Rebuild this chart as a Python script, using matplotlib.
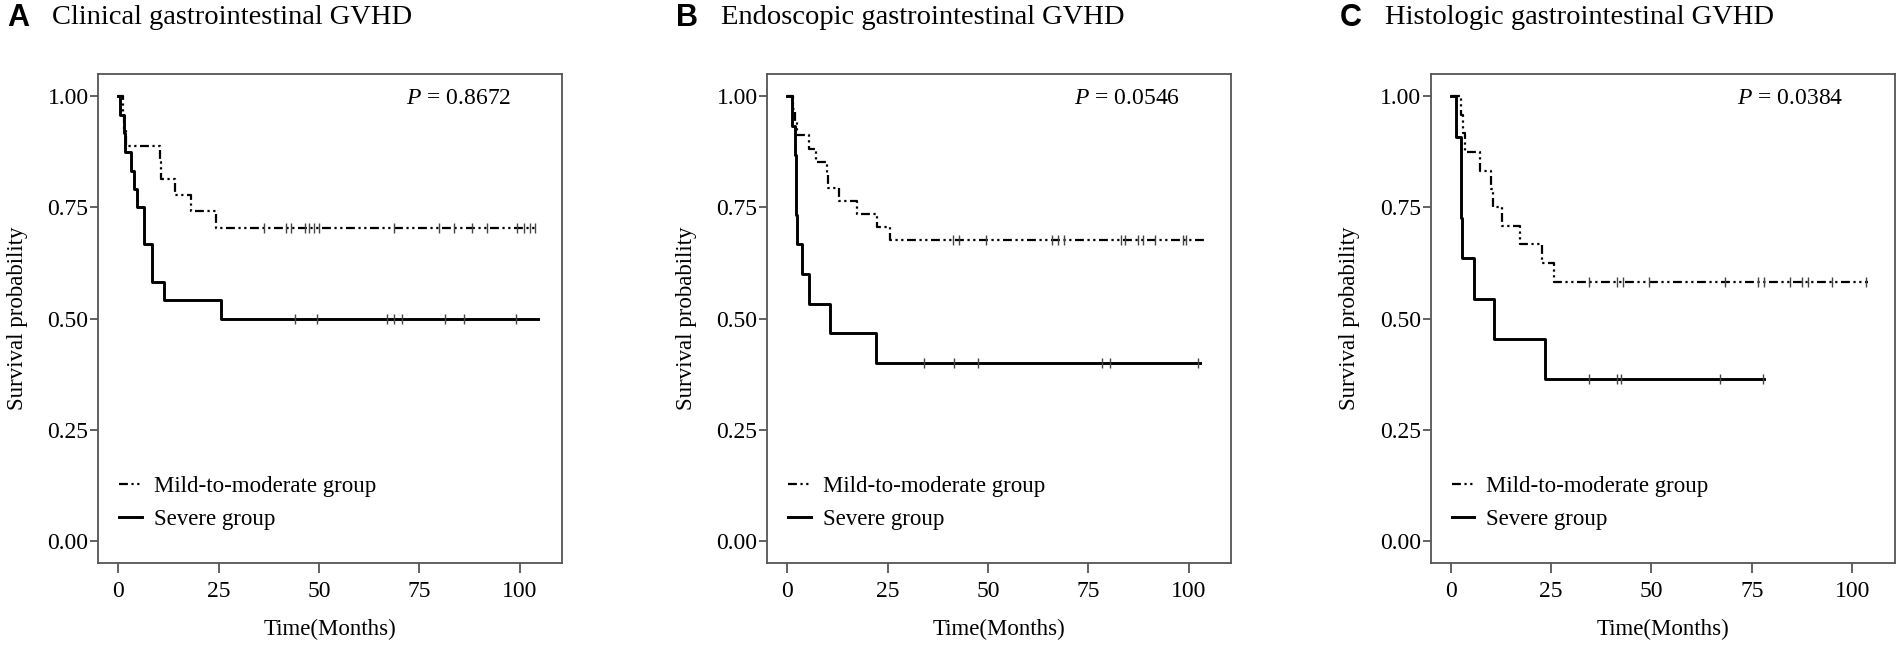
import matplotlib
matplotlib.use("Agg")
import matplotlib.pyplot as plt
import numpy as np
from matplotlib.lines import Line2D

plt.rcParams["font.family"] = ["Liberation Serif", "DejaVu Serif"]
plt.rcParams["mathtext.fontset"] = "custom"
plt.rcParams["mathtext.it"] = "Liberation Serif:italic"
plt.rcParams["mathtext.rm"] = "Liberation Serif"

# Panel A - clinical
a_mild_t = [0, 1.2, 1.5, 1.9, 10.3, 10.6, 14.0, 18.0, 24.2, 104.0]
a_mild_s = [1.0, 0.963, 0.926, 0.889, 0.852, 0.815, 0.778, 0.741, 0.704, 0.704]
a_mild_cens = [36.4, 41.8, 43.0, 46.5, 47.6, 48.8, 50.0, 68.6, 79.8, 83.6,
               88.1, 91.8, 99.3, 101.0, 102.6, 103.9]
a_sev_t = [0, 0.4, 1.4, 1.6, 3.2, 4.0, 4.6, 6.4, 8.3, 11.4, 25.5, 104.5]
a_sev_s = [1.0, 0.958, 0.917, 0.875, 0.833, 0.792, 0.75, 0.667, 0.583, 0.542, 0.5, 0.5]
a_sev_cens = [43.9, 49.4, 67.0, 68.6, 70.7, 81.5, 86.0, 99.0]

# Panel B - endoscopic
b_mild_t = [0, 1.5, 2.0, 2.5, 5.5, 7.2, 9.8, 10.2, 12.8, 17.3, 22.3, 25.5, 104.4]
b_mild_s = [1.0, 0.971, 0.941, 0.912, 0.882, 0.853, 0.824, 0.794, 0.765, 0.735,
            0.706, 0.676, 0.676]
b_mild_cens = [41.3, 42.8, 49.4, 66.0, 67.3, 69.0, 83.2, 84.0, 87.4, 88.6,
               91.5, 98.6, 99.4]
b_sev_t = [0, 1.1, 2.0, 2.1, 2.2, 2.3, 3.6, 5.5, 10.5, 22.0, 102.7]
b_sev_s = [1.0, 0.933, 0.867, 0.8, 0.733, 0.667, 0.6, 0.533, 0.467, 0.4, 0.4]
b_sev_cens = [34.0, 41.5, 47.5, 78.5, 80.5, 102.4]

# Panel C - histologic
c_mild_t = [0, 2.5, 3.0, 3.5, 7.3, 10.1, 10.6, 12.7, 17.3, 22.7, 25.7, 104.0]
c_mild_s = [1.0, 0.958, 0.917, 0.875, 0.833, 0.792, 0.75, 0.708, 0.667, 0.625,
            0.583, 0.583]
c_mild_cens = [34.5, 41.5, 42.8, 49.4, 68.2, 76.5, 78.0, 84.5, 87.5, 89.0,
               95.0, 103.5]
c_sev_t = [0, 1.3, 2.5, 2.6, 2.7, 5.8, 10.7, 23.5, 78.0]
c_sev_s = [1.0, 0.909, 0.818, 0.727, 0.636, 0.545, 0.455, 0.364, 0.364]
c_sev_cens = [34.5, 41.5, 42.5, 67.0, 77.8]

letters = ["A", "B", "C"]
titles = ["Clinical gastrointestinal GVHD", "Endoscopic gastrointestinal GVHD",
          "Histologic gastrointestinal GVHD"]
p_values = ["0.8672", "0.0546", "0.0384"]
panels = [
    (a_mild_t, a_mild_s, a_mild_cens, a_sev_t, a_sev_s, a_sev_cens),
    (b_mild_t, b_mild_s, b_mild_cens, b_sev_t, b_sev_s, b_sev_cens),
    (c_mild_t, c_mild_s, c_mild_cens, c_sev_t, c_sev_s, c_sev_cens),
]

W, H = 1901, 650
lefts = [98.3, 767.3, 1430.7]
ax_w = 464
top_px, bot_px = 74, 563.3

dashdot = (0, (4, 1.6, 1, 1.6, 1, 1.6))
spine_col = "#555555"


def surv_at(times, surv, c):
    i = np.searchsorted(times, c, side="right") - 1
    return surv[max(i, 0)]


fig = plt.figure(figsize=(W / 100, H / 100), dpi=100)

for k in range(3):
    mt, ms, mc, st, ss, sc = panels[k]
    ax = fig.add_axes([lefts[k] / W, 1 - bot_px / H, ax_w / W, (bot_px - top_px) / H])

    ax.step(mt, ms, where="post", color="black", lw=1.6, linestyle=dashdot)
    ax.step(st, ss, where="post", color="black", lw=2.1)
    ax.plot(mc, [surv_at(mt, ms, c) for c in mc], linestyle="none", marker="|",
            color="#444444", ms=7, mew=1.0)
    ax.plot(sc, [surv_at(st, ss, c) for c in sc], linestyle="none", marker="|",
            color="#444444", ms=7, mew=1.0)

    ax.set_xlim(-5, 110.6)
    ax.set_ylim(-0.05, 1.05)
    ax.set_xticks([0, 25, 50, 75, 100])
    ax.set_yticks([0, 0.25, 0.5, 0.75, 1.0])
    ax.set_yticklabels(["0.00", "0.25", "0.50", "0.75", "1.00"])
    ax.tick_params(axis="x", direction="out", length=7, width=1.3, color=spine_col,
                   labelsize=17, pad=6)
    ax.tick_params(axis="y", direction="out", length=6, width=1.3, color=spine_col,
                   labelsize=17, pad=1)
    for sp in ax.spines.values():
        sp.set_color(spine_col)
        sp.set_linewidth(1.3)

    ax.set_xlabel("Time(Months)", fontsize=16.5)
    ax.xaxis.set_label_coords(0.5, -0.113)
    ax.set_ylabel("Survival probability", fontsize=16.5)
    ax.yaxis.set_label_coords(-0.152, 0.5)

    ax.text(0.89, 0.949, r"$\it{P}$ = " + p_values[k], transform=ax.transAxes,
            ha="right", va="center", fontsize=17)

    handles = [Line2D([], [], color="black", lw=1.6, linestyle=dashdot),
               Line2D([], [], color="black", lw=2.1)]
    ax.legend(handles, ["Mild-to-moderate group", "Severe group"],
              loc="lower left", bbox_to_anchor=(0.045, 0.069), frameon=False,
              fontsize=16.5, handlelength=1.0, handletextpad=0.5,
              labelspacing=0.48, borderaxespad=0, borderpad=0)

    x0 = lefts[k] - 91
    fig.text(x0 / W, 1 - 18 / H, letters[k], fontsize=22, fontweight="bold",
             family="Liberation Sans", va="center", ha="left")
    fig.text((x0 + 45) / W, 1 - 18 / H, titles[k], fontsize=20.5,
             va="center", ha="left")

fig.savefig("out.png", dpi=100)
